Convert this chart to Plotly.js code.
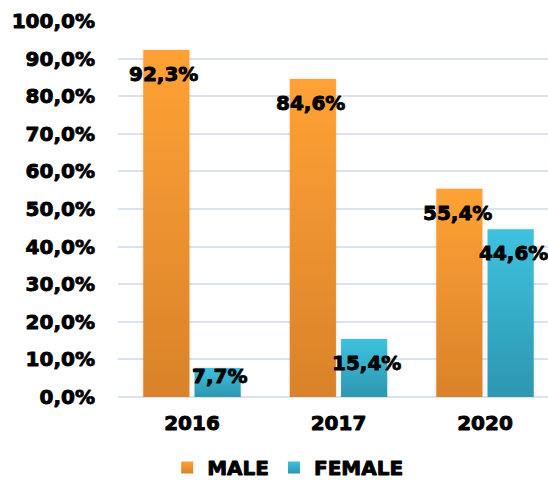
<!DOCTYPE html>
<html>
<head>
<meta charset="utf-8">
<script src="https://cdn.plot.ly/plotly-3.0.1.min.js"></script>
<style>html,body{margin:0;padding:0;background:#fff;}</style>
</head>
<body>
<div id="chart" style="width:548px;height:480px;"></div>
<script>
var years = ['2016', '2017', '2020'];
var maleValues = [92.3, 84.6, 55.4];
var femaleValues = [7.7, 15.4, 44.6];
var seriesNames = ['MALE', 'FEMALE'];
var yTicks = [0, 10, 20, 30, 40, 50, 60, 70, 80, 90, 100];

var FONT = 'DejaVu Sans, Arial Black, sans-serif';
var maleTop = '#FFA235', maleBottom = '#D9822A';
var femTop = '#3EC2DF', femBottom = '#2D96B0';

function fmt(v) { return v.toFixed(1).replace('.', ',') + '%'; }

var traces = [
  {type: 'bar', name: seriesNames[0], x: years, y: maleValues,
   marker: {color: maleTop, line: {width: 0}}, hoverinfo: 'none'},
  {type: 'bar', name: seriesNames[1], x: years, y: femaleValues,
   marker: {color: femTop, line: {width: 0}}, hoverinfo: 'none'}
];

var annotations = [];
[maleValues, femaleValues].forEach(function (vals, s) {
  vals.forEach(function (v, i) {
    annotations.push({
      x: i, y: Math.max(v - 6.4, 5.6), xref: 'x', yref: 'y',
      text: fmt(v), showarrow: false, xshift: s === 0 ? -28 : 28,
      font: {family: FONT, size: 20, color: '#000', weight: 'bold'},
      xanchor: 'center', yanchor: 'middle'
    });
  });
});

var layout = {
  width: 548, height: 480,
  margin: {l: 118, r: 0, t: 21, b: 83},
  paper_bgcolor: '#fff', plot_bgcolor: '#fff',
  barmode: 'group', bargap: 0.30, bargroupgap: 0.1,
  showlegend: true,
  legend: {orientation: 'h', xref: 'container', yref: 'container',
           x: 0.525, y: 0.026, xanchor: 'center', yanchor: 'middle',
           font: {family: FONT, size: 20, color: '#000', weight: 'bold'},
           traceorder: 'normal'},
  xaxis: {type: 'category', range: [-0.505, 2.43], showgrid: false, zeroline: false,
          showline: false, ticks: '', ticklabelstandoff: 12,
          tickfont: {family: FONT, size: 20, color: '#000', weight: 'bold'}},
  yaxis: {range: [0, 100], tickmode: 'array', tickvals: yTicks, ticktext: yTicks.map(fmt),
          showgrid: true, gridcolor: '#DAE4F1', gridwidth: 2,
          zeroline: true, zerolinecolor: '#DAE4F1', zerolinewidth: 2,
          showline: false, ticks: '', ticklabelstandoff: 22,
          tickfont: {family: FONT, size: 20, color: '#000', weight: 'bold'}},
  annotations: annotations
};

Plotly.newPlot('chart', traces, layout, {displayModeBar: false, staticPlot: true}).then(function (gd) {
  var svg = gd.querySelector('svg.main-svg');
  var ns = 'http://www.w3.org/2000/svg';
  var defs = svg.querySelector('defs') || svg.insertBefore(document.createElementNS(ns, 'defs'), svg.firstChild);
  function grad(id, top, bottom) {
    var g = document.createElementNS(ns, 'linearGradient');
    g.setAttribute('id', id);
    g.setAttribute('x1', '0'); g.setAttribute('y1', '0');
    g.setAttribute('x2', '0'); g.setAttribute('y2', '1');
    [[0, top], [1, bottom]].forEach(function (st) {
      var s = document.createElementNS(ns, 'stop');
      s.setAttribute('offset', st[0]);
      s.setAttribute('stop-color', st[1]);
      g.appendChild(s);
    });
    defs.appendChild(g);
  }
  grad('gMale', maleTop, maleBottom);
  grad('gFem', femTop, femBottom);
  var f = document.createElementNS(ns, 'filter');
  f.setAttribute('id', 'shadow');
  f.setAttribute('x', '-20%'); f.setAttribute('y', '-5%');
  f.setAttribute('width', '140%'); f.setAttribute('height', '110%');
  f.innerHTML = '<feDropShadow dx="0" dy="0" stdDeviation="1.5" flood-color="#000" flood-opacity="0.15"/>';
  defs.appendChild(f);
  gd.querySelectorAll('.barlayer .trace').forEach(function (t, k) {
    t.querySelectorAll('path').forEach(function (p) {
      p.style.fill = 'url(#' + (k === 0 ? 'gMale' : 'gFem') + ')';
      p.setAttribute('filter', 'url(#shadow)');
    });
  });
  gd.querySelectorAll('.legend .traces').forEach(function (t, k) {
    t.querySelectorAll('.legendpoints path').forEach(function (p) {
      p.style.fill = 'url(#' + (k === 0 ? 'gMale' : 'gFem') + ')';
    });
  });
  gd.querySelectorAll('svg text').forEach(function (t) {
    t.style.stroke = '#000';
    t.style.strokeWidth = '0.9px';
    t.style.strokeLinejoin = 'round';
  });
});
</script>
</body>
</html>
